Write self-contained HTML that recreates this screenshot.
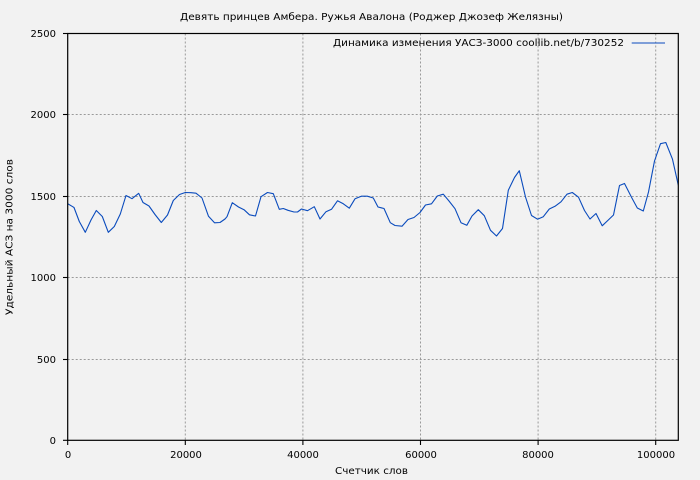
<!DOCTYPE html>
<html>
<head>
<meta charset="utf-8">
<style>
html,body{margin:0;padding:0;background:#f2f2f2;}
svg{display:block;}
text{font-family:"DejaVu Sans","Liberation Sans",sans-serif;font-size:10px;fill:#000;}
</style>
</head>
<body>
<svg width="700" height="480" viewBox="0 0 700 480" xmlns="http://www.w3.org/2000/svg">
<rect x="0" y="0" width="700" height="480" fill="#f2f2f2"/>
<g stroke="#9a9a9a" stroke-width="1" stroke-dasharray="2,2" fill="none">
<line x1="185.3" y1="33.5" x2="185.3" y2="440"/>
<line x1="302.9" y1="33.5" x2="302.9" y2="440"/>
<line x1="420.5" y1="33.5" x2="420.5" y2="440"/>
<line x1="538.1" y1="33.5" x2="538.1" y2="440"/>
<line x1="655.7" y1="33.5" x2="655.7" y2="440"/>
<line x1="67.7" y1="114.5" x2="678.3" y2="114.5"/>
<line x1="67.7" y1="196.5" x2="678.3" y2="196.5"/>
<line x1="67.7" y1="277.5" x2="678.3" y2="277.5"/>
<line x1="67.7" y1="359.5" x2="678.3" y2="359.5"/>
</g>
<defs><clipPath id="c"><rect x="67.7" y="33.5" width="610.6" height="407"/></clipPath></defs>
<polyline clip-path="url(#c)" fill="none" stroke="#0a4bbd" stroke-width="1.1" stroke-linejoin="round" points="
67.7,203.7 72.7,206.7 74,207.5 79.3,221.5 85.3,232.3 91,220 96.3,210.5 102.3,216.5 108.3,232.3 114.3,226.5 120.3,214 126,195.5 132,198.7 138.7,193.3 143,202.5 149,206 155,214.5 161.3,222.5 167.5,215 173.3,200.5 179.5,194.5 185.3,192.5 191,192.7 196,193.2 202,198 208.5,216.3 214.5,222.8 220,222.5 225,219 227,216.7 232.3,202.7 238.5,207 244,209.7 249.5,214.8 255.5,216 261,196.7 267.5,192.5 273.3,193.7 279.3,209.3 283.3,208.5 288,210.3 294,212 297.5,212 301.5,209 307.5,210.7 314.3,206.7 320,219 326,211.7 331.5,209.3 337.5,200.8 343.3,203.8 349.3,208.2 355,198.8 361.3,196.2 367.3,196.2 373.3,198 378,207 384,208.5 390.3,222.7 395,225.5 402,226.2 408,219.5 414,217.5 420,212.5 425.5,205 431.5,203.8 437.3,196 443.3,194.2 449,201 455,208.7 461,222.7 466.8,225.3 472,216 478.3,209.7 484.3,215.7 490.5,230.3 496.5,236 502.5,228.5 508.3,190.3 514.5,177.5 519.3,170.7 525.5,197 531.5,215.5 537.5,219.2 543.3,216.7 549.3,209 555,206.3 561,201.8 567,194.2 572.3,192.5 578.5,197.2 584.5,210.5 590,219 596,213.5 602.2,225.8 608.3,220 613.5,215 619.5,185.5 624.5,183.5 631.5,197.3 637.3,208 643.3,211 648.5,192 654.5,161 660.5,143.7 665.8,142.5 672.5,159.2 678.3,185.2"/>
<rect x="67.7" y="33.5" width="610.6" height="406.8" fill="none" stroke="#000" stroke-width="1.2"/>
<g stroke="#000" stroke-width="1.1">
<line x1="63" y1="33.5" x2="67.7" y2="33.5"/>
<line x1="63" y1="114.5" x2="67.7" y2="114.5"/>
<line x1="63" y1="196.5" x2="67.7" y2="196.5"/>
<line x1="63" y1="277.5" x2="67.7" y2="277.5"/>
<line x1="63" y1="359.5" x2="67.7" y2="359.5"/>
<line x1="63" y1="440.3" x2="67.7" y2="440.3"/>
<line x1="67.7" y1="440.3" x2="67.7" y2="445"/>
<line x1="185.3" y1="440.3" x2="185.3" y2="445"/>
<line x1="302.9" y1="440.3" x2="302.9" y2="445"/>
<line x1="420.5" y1="440.3" x2="420.5" y2="445"/>
<line x1="538.1" y1="440.3" x2="538.1" y2="445"/>
<line x1="655.7" y1="440.3" x2="655.7" y2="445"/>
</g>
<g text-anchor="end">
<text x="56" y="37">2500</text>
<text x="56" y="118">2000</text>
<text x="56" y="200">1500</text>
<text x="56" y="281">1000</text>
<text x="56" y="363">500</text>
<text x="56" y="444">0</text>
</g>
<g text-anchor="middle">
<text x="68" y="458">0</text>
<text x="186" y="458">20000</text>
<text x="303" y="458">40000</text>
<text x="421" y="458">60000</text>
<text x="538" y="458">80000</text>
<text x="656" y="458">100000</text>
</g>
<text x="180" y="20" textLength="383" lengthAdjust="spacingAndGlyphs">Девять принцев Амбера. Ружья Авалона (Роджер Джозеф Желязны)</text>
<text x="333" y="46" textLength="291" lengthAdjust="spacingAndGlyphs">Динамика изменения УАСЗ-3000 coollib.net/b/730252</text>
<line x1="631.7" y1="43" x2="665" y2="43" stroke="#0a4bbd" stroke-width="1.1"/>
<text x="335" y="474" textLength="73" lengthAdjust="spacingAndGlyphs">Счетчик слов</text>
<text transform="translate(12.5,315) rotate(-90)" x="0" y="0" textLength="156" lengthAdjust="spacingAndGlyphs">Удельный АСЗ на 3000 слов</text>
</svg>
</body>
</html>
